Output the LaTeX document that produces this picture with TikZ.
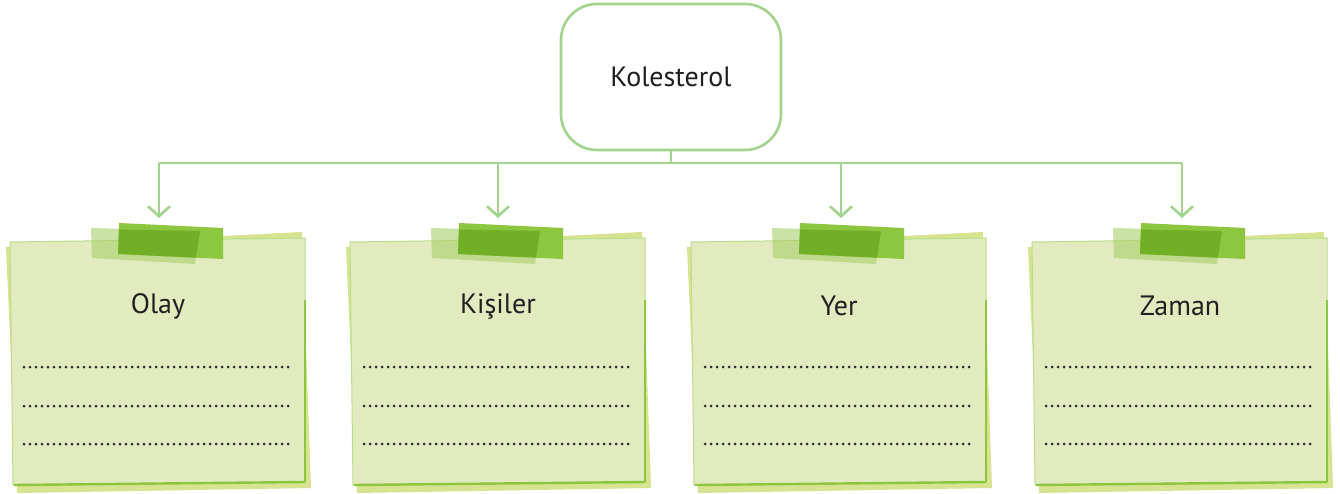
\documentclass[tikz,border=0pt]{standalone}
\usepackage{fontspec}
\setmainfont{PT Sans}
\usetikzlibrary{arrows.meta}
\definecolor{linegreen}{HTML}{A3D48E}
\definecolor{notefill}{HTML}{E2EBC0}
\definecolor{backfill}{HTML}{D7E390}
\definecolor{edgegreen}{HTML}{8CC63F}
\definecolor{tapelight}{HTML}{A8D06A}
\definecolor{tapemid}{HTML}{8DC63F}
\definecolor{tapedark}{HTML}{72AF27}
\definecolor{dotcol}{HTML}{2A2A2A}
\definecolor{textcol}{HTML}{231F20}
\tikzset{
  conn/.style={draw=linegreen, line width=2.6pt},
  arr/.style={conn, -{Straight Barb[length=10pt,width=22pt]}},
  mainbox/.style={draw=linegreen, line width=2.6pt, rounded corners=36pt, minimum width=220pt, minimum height=146pt, fill=white, text=textcol, font=\fontsize{28}{30}\selectfont},
  backsheet/.style={fill=backfill},
  mainsheet/.style={fill=notefill, draw=edgegreen!60, line width=1pt},
  sheetrim/.style={draw=edgegreen, line width=2.4pt},
  tapeL/.style={fill=tapelight, fill opacity=0.6},
  tapeM/.style={fill=tapemid},
  tapeD/.style={fill=tapedark},
  dotline/.style={draw=dotcol, line width=3pt, line cap=round, dash pattern=on 0pt off 6pt},
  titletext/.style={text=textcol, font=\fontsize{28}{30}\selectfont},
}
\begin{document}
\begin{tikzpicture}[x=1pt,y=-1pt]
\useasboundingbox (0,0) rectangle (1340,494);
\fill[white] (0,0) rectangle (1340,494);

\node[mainbox] (kol) at (671,77) {Kolesterol};
\coordinate (jn) at (671,163);
\coordinate (hl) at (159,163);
\coordinate (hr) at (1182,163);

\foreach \ox/\nm/\lbl/\ax in {0/a/Olay/159, 340/b/Kişiler/498, 681/c/Yer/841, 1022/d/Zaman/1182} {
  \begin{scope}[xshift=\ox pt]
    \fill[backsheet] (6,247) -- (302,232) -- (311,488) -- (17,493) -- cycle;
    \draw[mainsheet] (10,242) -- (305,238) -- (305,482) -- (13,485) -- cycle;
    \draw[sheetrim] (14,485) -- (305,482);
    \draw[edgegreen, line width=1.6pt] (305,482) -- (305,300);
    \fill[tapeL] (91,228) -- (200,231) -- (195,264) -- (92,258) -- cycle;
    \fill[tapeM] (119,223) -- (223,228) -- (223,259) -- (118,254) -- cycle;
    \fill[tapeD] (119,229.5) -- (200,231) -- (196,257.7) -- (118,254) -- cycle;
    \node[titletext] (t\nm) at (158,306) {\lbl};
    \coordinate (l1s\nm) at (24,367); \coordinate (l1e\nm) at (290,367);
    \coordinate (l2s\nm) at (24,406); \coordinate (l2e\nm) at (290,406);
    \coordinate (l3s\nm) at (24,444); \coordinate (l3e\nm) at (290,444);
    \draw[dotline] (l1s\nm) -- (l1e\nm);
    \draw[dotline] (l2s\nm) -- (l2e\nm);
    \draw[dotline] (l3s\nm) -- (l3e\nm);
  \end{scope}
  \coordinate (top\nm) at (\ax,163);
  \coordinate (tip\nm) at (\ax,218);
  \draw[arr] (top\nm) -- (tip\nm);
}
\draw[conn] (kol.south) -- (jn);
\draw[conn] (hl) -- (hr);
\end{tikzpicture}
\end{document}
